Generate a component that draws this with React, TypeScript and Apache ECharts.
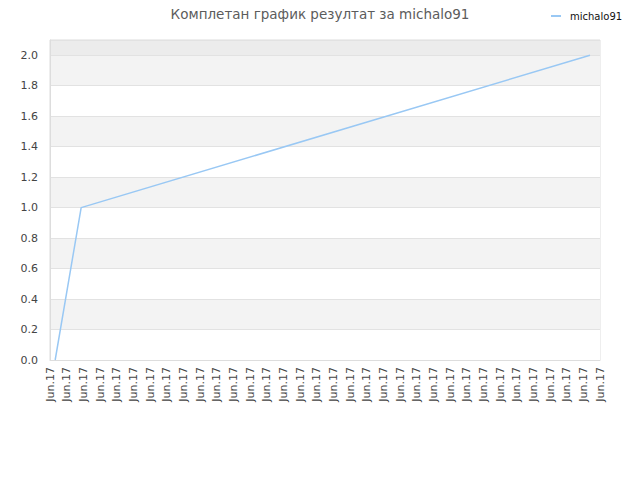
import React, { useEffect, useRef } from "react";
import * as echarts from "echarts";

const titleText = "Комплетан график резултат за michalo91";
const seriesName = "michalo91";
const tickLabel = "Jun.17";
const tickCount = 34;
const pointX = [0.31, 1.87, 32.4];
const pointY = [0, 1, 2];

export default function App() {
  const ref = useRef<HTMLDivElement>(null);
  useEffect(() => {
    if (!ref.current) return;
    const chart = echarts.init(ref.current, undefined, { renderer: "svg" });
    const data = pointX.map((x, i) => [x, pointY[i]]);
    const bands = ["#ffffff", "#f3f3f3", "#ffffff", "#f3f3f3", "#ffffff", "#f3f3f3", "#ffffff", "#f3f3f3", "#ffffff", "#f3f3f3", "#ececec"];
    chart.setOption({
      animation: false,
      textStyle: { fontFamily: "DejaVu Sans" },
      title: {
        text: titleText,
        left: 315,
        textAlign: "center",
        top: 2,
        textStyle: { fontFamily: "DejaVu Sans", fontSize: 13.5, fontWeight: "normal", color: "#5c5c5c" },
      },
      legend: {
        left: 546,
        top: 6,
        icon: "rect",
        itemWidth: 10,
        itemHeight: 2,
        textStyle: { fontFamily: "DejaVu Sans", fontSize: 10, color: "#111111", padding: [0, 0, 0, 4] },
        data: [seriesName],
      },
      grid: { left: 50, right: 40, top: 40, bottom: 120, show: true, borderColor: "#dddddd", borderWidth: 1, backgroundColor: "transparent" },
      xAxis: {
        type: "value",
        min: 0,
        max: tickCount - 1,
        interval: 1,
        axisLine: { show: true, lineStyle: { color: "#dddddd" } },
        axisTick: { show: false },
        splitLine: { show: false },
        axisLabel: {
          rotate: 90,
          margin: 7,
          fontSize: 11,
          color: "#444444",
          fontFamily: "DejaVu Sans",
          formatter: () => tickLabel,
          showMinLabel: true,
          showMaxLabel: true,
        },
      },
      yAxis: {
        type: "value",
        min: 0,
        max: 2.1,
        interval: 0.2,
        axisLine: { show: true, lineStyle: { color: "#dddddd" } },
        axisTick: { show: false },
        splitLine: { show: true, lineStyle: { color: "#e2e2e2" } },
        splitArea: { show: true, areaStyle: { color: bands } },
        axisLabel: {
          margin: 12,
          fontSize: 11,
          color: "#444444",
          fontFamily: "DejaVu Sans",
          formatter: (v: number) => (Math.abs(v - 2.1) < 1e-6 ? "" : v.toFixed(1)),
        },
      },
      series: [
        {
          name: seriesName,
          type: "line",
          data,
          showSymbol: false,
          symbol: "none",
          lineStyle: { color: "#99c8f4", width: 1.5 },
          itemStyle: { color: "#99c8f4" },
        },
      ],
    });
    return () => chart.dispose();
  }, []);
  return <div ref={ref} style={{ width: 640, height: 480, position: "absolute", left: 0, top: 0 }} />;
}
